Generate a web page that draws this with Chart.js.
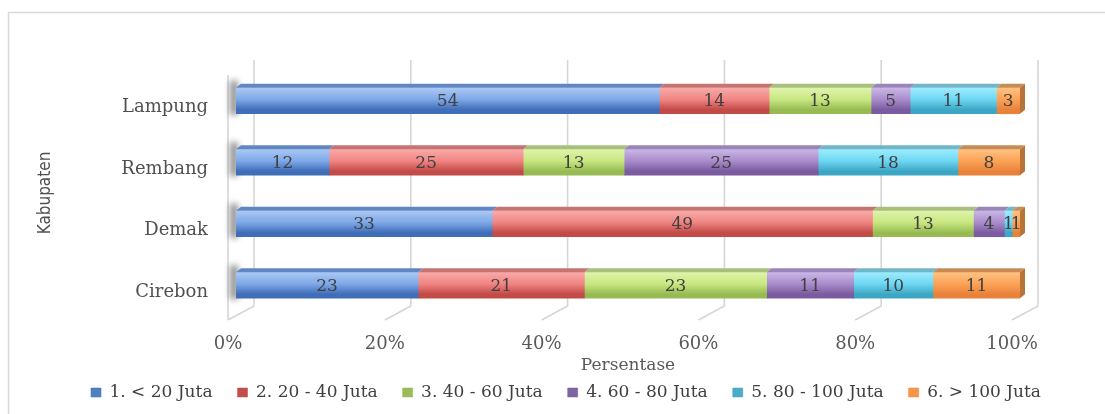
<!DOCTYPE html>
<html>
<head>
<meta charset="utf-8">
<script src="https://cdn.jsdelivr.net/npm/chart.js@4.4.0/dist/chart.umd.min.js"></script>
<style>
  html, body { margin: 0; padding: 0; background: #fff; }
  #wrap { width: 1105px; height: 414px; position: relative; }
</style>
</head>
<body>
<div id="wrap"><canvas id="c" width="1105" height="414"></canvas></div>
<script>
// Income distribution per district (percent of households)
const categories = ['Lampung', 'Rembang', 'Demak', 'Cirebon'];
const seriesNames = ['1. < 20 Juta', '2. 20 - 40 Juta', '3. 40 - 60 Juta', '4. 60 - 80 Juta', '5. 80 - 100 Juta', '6. > 100 Juta'];
const under20 = [54, 12, 33, 23];
const from20to40 = [14, 25, 49, 21];
const from40to60 = [13, 13, 13, 23];
const from60to80 = [5, 25, 4, 11];
const from80to100 = [11, 18, 1, 10];
const over100 = [3, 8, 1, 11];
const xTickLabels = ['0%', '20%', '40%', '60%', '80%', '100%'];

const seriesValues = [under20, from20to40, from40to60, from60to80, from80to100, over100];

// shading: light (top of front face), mid, dark (bottom), top face, end cap
const palette = [
  { light: '#ABC9F4', mid: '#7EA8E7', dark: '#3F6DB7', top: '#6187C2', cap: '#4A73B0', solid: '#4F81BD' },
  { light: '#F8ABA9', mid: '#F08582', dark: '#C24A47', top: '#C67472', cap: '#B04E4B', solid: '#C0504D' },
  { light: '#DFF4AB', mid: '#C8E781', dark: '#97BA52', top: '#A8C07B', cap: '#8CAA52', solid: '#9BBB59' },
  { light: '#CAB7E6', mid: '#A98CCC', dark: '#7A5BA0', top: '#9A85B8', cap: '#6F5495', solid: '#8064A2' },
  { light: '#9FECFE', mid: '#6DD7F3', dark: '#3CA6C4', top: '#70B6C9', cap: '#3D98B3', solid: '#4BACC6' },
  { light: '#FFC383', mid: '#FBA256', dark: '#E8823A', top: '#C98B56', cap: '#B87337', solid: '#F79646' }
];

// each row is shown as a 100% stack
const rowTotals = categories.map((_, r) => seriesValues.reduce((s, arr) => s + arr[r], 0));

const BAR_H = 26;
const serifFont = "'DejaVu Serif', 'Liberation Serif', serif";
const narrowFont = "'Liberation Sans Narrow', 'DejaVu Sans Condensed', sans-serif";

function faceGradient(i) {
  return function (ctx) {
    const p = palette[i];
    if (ctx.type !== 'data') return p.mid;
    const chart = ctx.chart;
    const ys = chart.scales && chart.scales.y;
    if (!chart.chartArea || !ys) return p.mid;
    const cy = ys.getPixelForValue(ctx.dataIndex);
    const g = chart.ctx.createLinearGradient(0, cy - BAR_H / 2, 0, cy + BAR_H / 2);
    g.addColorStop(0, p.light);
    g.addColorStop(0.45, p.mid);
    g.addColorStop(0.85, p.dark);
    g.addColorStop(1, p.dark);
    return g;
  };
}

const datasets = seriesNames.map((name, i) => ({
  label: name,
  data: seriesValues[i].map((v, r) => v / rowTotals[r] * 100),
  values: seriesValues[i],
  backgroundColor: faceGradient(i),
  borderWidth: 0,
  barThickness: BAR_H,
  borderSkipped: false
}));

const DX = 5, DY = 4;   // depth of each bar
const FRONT = -8, BACK = 18, BACK_DY = 14; // offsets of the floor and back wall

const frame = {
  id: 'frame',
  beforeDraw(chart) {
    const c = chart.ctx;
    c.save();
    c.strokeStyle = '#D9D9D9';
    c.lineWidth = 1.5;
    c.beginPath();
    c.moveTo(8.5, 414);
    c.lineTo(8.5, 12.5);
    c.lineTo(1105, 12.5);
    c.stroke();
    c.restore();
  },
  beforeDatasetsDraw(chart) {
    const c = chart.ctx;
    const xs = chart.scales.x, ys = chart.scales.y;
    const area = chart.chartArea;
    const topBack = area.top - 10;
    const botBack = area.bottom - 10;
    c.save();
    c.strokeStyle = '#D6D6D6';
    c.lineWidth = 1.6;
    // back wall gridlines folding onto the floor
    for (let v = 0; v <= 100; v += 20) {
      const px = xs.getPixelForValue(v);
      c.beginPath();
      c.moveTo(px + BACK, topBack);
      c.lineTo(px + BACK, botBack);
      c.lineTo(px + FRONT, botBack + BACK_DY);
      c.stroke();
    }
    // left side wall front edge
    const x0 = xs.getPixelForValue(0);
    c.beginPath();
    c.moveTo(x0 + FRONT, topBack + 15);
    c.lineTo(x0 + FRONT, botBack + BACK_DY);
    c.stroke();
    // shadows cast on the side wall
    c.filter = 'blur(3px)';
    c.fillStyle = 'rgba(70,70,70,0.6)';
    categories.forEach((_, r) => {
      const cy = ys.getPixelForValue(r);
      c.fillRect(x0 - 6, cy - BAR_H / 2 - 7, 8, BAR_H + 8);
    });
    c.filter = 'none';
    c.restore();
  },
  afterDatasetsDraw(chart) {
    const c = chart.ctx;
    c.save();
    const last = chart.data.datasets.length - 1;
    chart.data.datasets.forEach((ds, i) => {
      const meta = chart.getDatasetMeta(i);
      const p = palette[i];
      meta.data.forEach((el) => {
        const top = el.y - BAR_H / 2, bot = el.y + BAR_H / 2;
        const a = Math.min(el.base, el.x), b = Math.max(el.base, el.x);
        // top face
        c.fillStyle = p.top;
        c.beginPath();
        c.moveTo(a, top);
        c.lineTo(a + DX, top - DY);
        c.lineTo(b + DX, top - DY);
        c.lineTo(b, top);
        c.closePath();
        c.fill();
        if (i === last) {
          c.fillStyle = p.cap;
          c.beginPath();
          c.moveTo(b, top);
          c.lineTo(b + DX, top - DY);
          c.lineTo(b + DX, bot - DY);
          c.lineTo(b, bot);
          c.closePath();
          c.fill();
        }
      });
    });
    // value labels
    c.font = '17px ' + serifFont;
    c.fillStyle = '#404040';
    c.textAlign = 'center';
    c.textBaseline = 'middle';
    chart.data.datasets.forEach((ds, i) => {
      const meta = chart.getDatasetMeta(i);
      meta.data.forEach((el, r) => {
        c.fillText(String(ds.values[r]), (el.x + el.base) / 2, el.y + 1);
      });
    });
    c.restore();
  }
};

new Chart(document.getElementById('c'), {
  type: 'bar',
  data: { labels: categories, datasets },
  options: {
    indexAxis: 'y',
    responsive: false,
    animation: false,
    devicePixelRatio: 1,
    layout: { padding: { left: 30, right: 3, top: 70, bottom: 3 } },
    scales: {
      x: {
        stacked: true,
        min: 0, max: 100,
        grid: { display: false, drawTicks: false },
        border: { display: false },
        ticks: {
          stepSize: 20,
          padding: 18,
          labelOffset: FRONT,
          color: '#595959',
          font: { family: serifFont, size: 18 },
          callback: (v) => xTickLabels[v / 20]
        },
        title: {
          display: true, text: 'Persentase', color: '#595959',
          font: { family: serifFont, size: 17 }, padding: { top: 0, bottom: -17 }
        },
        afterFit(scale) { scale.height = 43; }
      },
      y: {
        stacked: true,
        grid: { display: false, drawTicks: false },
        border: { display: false },
        ticks: {
          padding: 28,
          labelOffset: 7,
          color: '#505050',
          font: { family: serifFont, size: 18 }
        },
        title: {
          display: true, text: 'Kabupaten', color: '#505050',
          font: { family: narrowFont, size: 17 }, padding: { top: 5, bottom: 0 }
        },
        afterFit(scale) { scale.width = 206; }
      },
      // keeps room on the right so the legend sits centred under the plot
      side: {
        type: 'linear',
        position: 'right',
        display: true,
        grid: { display: false, drawTicks: false },
        border: { display: false },
        ticks: { display: false },
        afterFit(scale) { scale.width = 82; }
      }
    },
    plugins: {
      legend: {
        position: 'bottom',
        labels: {
          boxWidth: 10, boxHeight: 9, padding: 25,
          color: '#404040',
          font: { family: serifFont, size: 17 },
          generateLabels(chart) {
            return chart.data.datasets.map((ds, i) => ({
              text: ds.label, fillStyle: palette[i].solid, strokeStyle: palette[i].dark,
              lineWidth: 0.5, datasetIndex: i, hidden: false, fontColor: '#404040'
            }));
          }
        }
      },
      tooltip: { enabled: false }
    }
  },
  plugins: [frame]
});
</script>
</body>
</html>
